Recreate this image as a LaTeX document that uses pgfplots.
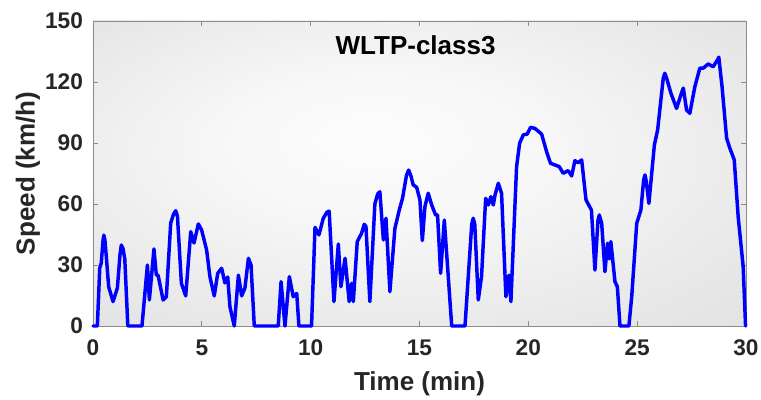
\documentclass[border=0pt]{standalone}
\usepackage{pgfplots}
\pgfplotsset{compat=1.18}
\usepackage{fontspec}
\setmainfont{Liberation Sans}
\definecolor{lblgray}{HTML}{262626}
\definecolor{framegray}{HTML}{8C8C8C}
\pgfdeclareradialshading{plotbg}{\pgfpoint{-4bp}{6bp}}{%
  color(0bp)=(white!99!black); color(12bp)=(white!97!black);
  color(30bp)=(white!91!black); color(50bp)=(white!85!black)}

\begin{document}
\begin{tikzpicture}[x=1pt,y=1pt]
  % page frame in px (1px = 0.75pt): axis box 653x305 px, 93 px left, 74 px below
  \path[use as bounding box] (-69.75,-55.5) rectangle (501,244.5);
  \begin{axis}[
      at={(0,0)}, anchor=south west,
      scale only axis,
      width=489.75pt, height=228.75pt,
      xmin=0, xmax=30, ymin=0, ymax=150,
      xtick={0,5,...,30}, ytick={0,30,...,150},
      tick align=inside,
      major tick length=4pt,
      axis line style={framegray, line width=0.6pt},
      every tick/.style={framegray, line width=0.6pt},
      axis background/.style={shading=plotbg},
      /pgf/number format/assume math mode=true,
      ticklabel style={font=\bfseries\fontsize{17}{17}\selectfont, text=lblgray},
      xticklabel style={yshift=-7pt},
      yticklabel style={xshift=-4pt},
      label style={font=\bfseries\fontsize{19.5}{20}\selectfont, text=lblgray},
      xlabel={Time (min)},
      ylabel={Speed (km/h)},
      xlabel style={yshift=-5pt},
      ylabel style={yshift=-3pt},
      clip=false,
    ]
    \addplot[blue, line width=2.6pt, line join=round, line cap=round] coordinates {
      (0,0) (0.2,0) (0.31,28.5) (0.38,31) (0.46,42) (0.5,44.7) (0.55,42) (0.62,33)
      (0.72,19.3) (0.92,12) (1.12,18.7) (1.24,35) (1.3,39.8) (1.38,38) (1.46,33) (1.6,0)
      (2.25,0) (2.5,30) (2.59,12.8) (2.8,37.9) (2.91,25) (2.99,25) (3.22,12.8) (3.37,14.4)
      (3.57,50.6) (3.7,55) (3.8,56.7) (3.88,54) (4.06,21) (4.26,14.8) (4.49,46.4)
      (4.64,40.8) (4.84,50.2) (4.99,47.2) (5.22,37.4) (5.37,24.3) (5.57,14.8) (5.73,25.9)
      (5.91,28.4) (6.06,21.2) (6.19,24.1) (6.29,9.5) (6.49,0) (6.68,25) (6.83,14.8)
      (6.98,18.7) (7.14,33.3) (7.26,30) (7.41,0) (8.51,0) (8.64,21.8) (8.82,0) (9.02,24.3)
      (9.2,14.4) (9.36,16) (9.46,0) (10.04,0) (10.2,48.5) (10.38,44.8) (10.58,53)
      (10.75,56) (10.85,56.5) (11.07,12) (11.27,40.3) (11.39,19.3) (11.58,33.3) (11.77,12)
      (11.88,21) (11.96,12) (12.14,41.5) (12.34,45.6) (12.46,50) (12.54,49) (12.72,12)
      (12.95,60) (13.08,65) (13.18,66) (13.34,42.3) (13.46,53) (13.64,16.9) (13.87,48)
      (14.07,57) (14.22,62.8) (14.4,74) (14.5,76.7) (14.6,74) (14.71,69.4) (14.87,68.2)
      (15.02,62) (15.13,42) (15.25,58.7) (15.4,65.3) (15.56,59.5) (15.74,54.6) (15.83,54.6)
      (15.97,25.9) (16.14,52.1) (16.48,0) (17.09,0) (17.4,50) (17.47,53) (17.54,50)
      (17.7,12.8) (17.85,24.3) (18.04,62.8) (18.16,59.5) (18.28,63.6) (18.39,59.5)
      (18.47,64.4) (18.62,70.2) (18.77,65.3) (18.97,14.4) (19.11,25) (19.2,12) (19.46,78.4)
      (19.6,89.9) (19.77,94) (19.95,94.4) (20.1,97.7) (20.3,97.2) (20.61,94.4) (20.84,85.7)
      (21.02,80) (21.22,79.2) (21.42,78.4) (21.6,75.1) (21.83,76.4) (21.99,73.8)
      (22.14,81.3) (22.29,80.3) (22.45,81.7) (22.65,62) (22.8,59) (22.9,57) (23.06,27.5)
      (23.2,52) (23.26,54.6) (23.37,50.5) (23.52,26.7) (23.64,40.7) (23.72,33) (23.79,41.5)
      (23.98,21.8) (24.09,19.3) (24.21,0) (24.62,0) (24.75,14.4) (24.98,50.5) (25.17,57)
      (25.3,72) (25.36,74.3) (25.42,71) (25.54,60.3) (25.79,89) (25.94,96.4) (26.2,122)
      (26.27,124.3) (26.35,122) (26.55,114.5) (26.81,107) (27.05,115) (27.12,117)
      (27.27,106.2) (27.42,104.6) (27.65,117.7) (27.88,126.8) (28.04,126.8) (28.26,128.9)
      (28.49,127.5) (28.7,131) (28.75,132.2) (28.9,117.7) (29.11,92.3) (29.26,87.4)
      (29.46,81.7) (29.64,53.8) (29.87,29.2) (29.98,0)
    };
    \node[font=\bfseries\fontsize{19.5}{20}\selectfont, anchor=center]
      at (axis description cs:0.494,0.92) {WLTP-class3};
  \end{axis}
\end{tikzpicture}
\end{document}
